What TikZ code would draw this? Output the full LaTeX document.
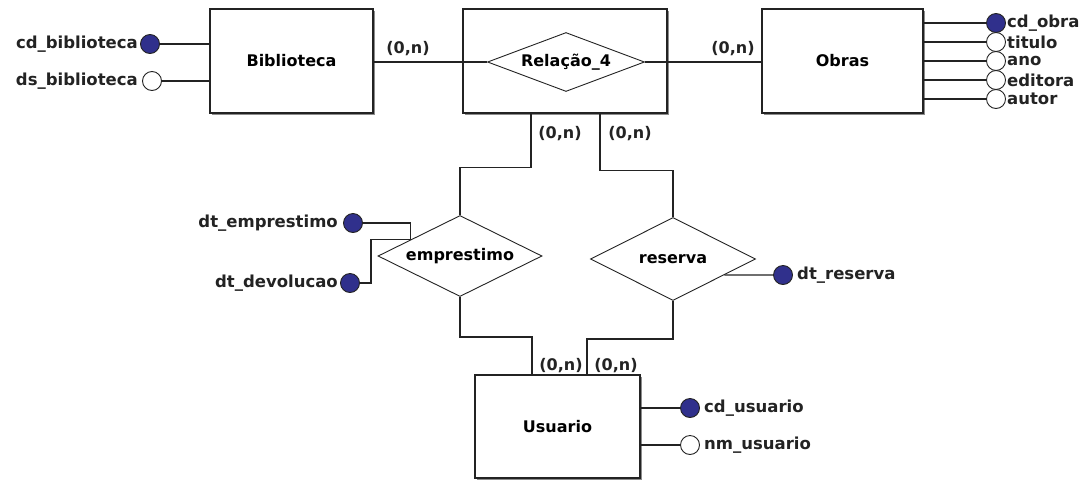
\documentclass[tikz,border=0pt]{standalone}
\usepackage{fontspec}
\setmainfont{DejaVu Sans}
\usetikzlibrary{shapes.geometric,calc,shadows}
\definecolor{keyblue}{RGB}{48,48,140}
\definecolor{ink}{RGB}{35,35,35}
\tikzset{
  ent/.style={draw=ink, line width=1.3pt, fill=white, inner sep=0pt,
    drop shadow={shadow xshift=1.6pt, shadow yshift=-1.6pt, fill=black!45, opacity=1},
    font=\bfseries\fontsize{16}{18}\selectfont},
  rel/.style={diamond, draw=ink, line width=0.9pt, fill=white, inner sep=0pt,
    font=\bfseries\fontsize{16}{18}\selectfont},
  conn/.style={draw=ink, line width=1.3pt},
  keyattr/.style={circle, draw=ink, line width=0.9pt, fill=keyblue, minimum size=19pt, inner sep=0pt},
  attr/.style={circle, draw=ink, line width=0.9pt, fill=white, minimum size=19pt, inner sep=0pt},
  lbl/.style={font=\bfseries\fontsize{16.5}{18}\selectfont, text=ink, inner sep=0pt},
  card/.style={font=\bfseries\fontsize{16}{18}\selectfont, text=ink, inner sep=0pt}
}
\begin{document}
\begin{tikzpicture}[x=1pt,y=-1pt]
\useasboundingbox (0,0) rectangle (1089,480);
\fill[white] (0,0) rectangle (1089,480);

% entities
\node[ent, minimum width=163pt, minimum height=104pt] (bib) at (291.5,61) {Biblioteca};
\node[ent, minimum width=204pt, minimum height=104pt] (agg) at (565,61) {};
\node[ent, minimum width=161pt, minimum height=104pt] (obras) at (842.5,61) {Obras};
\node[ent, minimum width=165pt, minimum height=103pt] (usu) at (557.5,426.5) {Usuario};

% relationships
\node[rel, shape aspect=2.6, minimum width=157pt, minimum height=59pt] (rel4) at (566,62) {Relação\_4};
\node[rel, shape aspect=2, minimum width=164pt, minimum height=81pt] (emp) at (460,256) {emprestimo};
\node[rel, shape aspect=2, minimum width=165pt, minimum height=83pt] (res) at (673,259) {reserva};

% connectors
\draw[conn] (bib.east |- rel4.west) -- (rel4.west);
\draw[conn] (rel4.east) -- (rel4.east -| obras.west);
\draw[conn] ([xshift=-34pt]agg.south) -- ++(0,54) -| (emp.north);
\draw[conn] ([xshift=35pt]agg.south) -- ++(0,57) -| (res.north);
\draw[conn] (emp.south) -- ++(0,40) -| ([xshift=-25.5pt]usu.north);
\draw[conn] (res.south) -- ++(0,38) -| ([xshift=29.5pt]usu.north);

% cardinalities
\node[card] (c1) at (408,49) {(0,n)};
\node[card] (c2) at (733,49) {(0,n)};
\node[card] (c3) at (560,134) {(0,n)};
\node[card] (c4) at (630,134) {(0,n)};
\node[card] (c5) at (561,366) {(0,n)};
\node[card] (c6) at (616,366) {(0,n)};

% Biblioteca attributes
\node[keyattr] (cdb) at (150,44) {};
\node[attr] (dsb) at (152,81) {};
\draw[conn] (cdb.east) -- (cdb.east -| bib.west);
\draw[conn] (dsb.east) -- (dsb.east -| bib.west);
\node[lbl, anchor=east] (lcdb) at (138,44) {cd\_biblioteca};
\node[lbl, anchor=east] (ldsb) at (138,81) {ds\_biblioteca};

% Obras attributes
\foreach \n/\y/\s/\t in {oa/23/keyattr/cd\_obra, ob/42/attr/titulo, oc/61/attr/ano, od/80/attr/editora, oe/99/attr/autor}{
  \node[\s] (\n) at (996,\y) {};
  \draw[conn] (\n.west -| obras.east) -- (\n.west);
  \node[lbl, anchor=west] (l\n) at (1007,\y) {\t};
}

% emprestimo attributes
\coordinate (ea) at ($(emp.west)!0.4!(emp.north)$);
\node[keyattr] (dte) at (353,223) {};
\node[keyattr] (dtd) at (350,283) {};
\draw[conn] (dte.east) -| (ea);
\draw[conn] (dtd.east) -- ++(11,0) |- (ea);
\node[lbl, anchor=east] (ldte) at (338,223) {dt\_emprestimo};
\node[lbl, anchor=east] (ldtd) at (338,283) {dt\_devolucao};

% reserva attribute
\coordinate (ra) at ($(res.east)!0.38!(res.south)$);
\node[keyattr] (dtr) at (783,275) {};
\draw[conn] (ra) -- (dtr.west);
\node[lbl, anchor=west] (ldtr) at (797,275) {dt\_reserva};

% Usuario attributes
\node[keyattr] (cdu) at (690,408) {};
\node[attr] (nmu) at (690,445) {};
\draw[conn] (cdu.west -| usu.east) -- (cdu.west);
\draw[conn] (nmu.west -| usu.east) -- (nmu.west);
\node[lbl, anchor=west] (lcdu) at (704,408) {cd\_usuario};
\node[lbl, anchor=west] (lnmu) at (704,445) {nm\_usuario};
\end{tikzpicture}
\end{document}
